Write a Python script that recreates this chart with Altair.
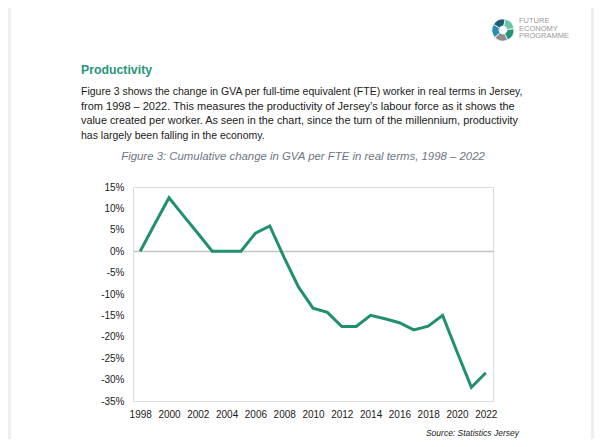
"""Jersey productivity page: cumulative change in GVA per FTE, 1998-2022."""

import pandas as pd
import altair as alt

# chart data
years = list(range(1998, 2023))
gva_change = [
    0.0, 6.3, 12.5, 8.3, 4.2, 0.0, 0.0, 0.0, 4.2, 5.9,
    -1.5, -8.4, -13.3, -14.3, -17.6, -17.6, -15.0, -15.8, -16.7, -18.4,
    -17.5, -15.0, -23.5, -31.8, -28.4,
]
year_ticks = list(range(1998, 2023, 2))
pct_ticks = list(range(-35, 20, 5))

# page text
heading = "Productivity"
paragraph = [
    "Figure 3 shows the change in GVA per full-time equivalent (FTE) worker in real terms in Jersey,",
    "from 1998 \u2013 2022. This measures the productivity of Jersey\u2019s labour force as it shows the",
    "value created per worker. As seen in the chart, since the turn of the millennium, productivity",
    "has largely been falling in the economy.",
]
caption = "Figure 3: Cumulative change in GVA per FTE in real terms, 1998 \u2013 2022"
source = "Source: Statistics Jersey"
logo_words = ["FUTURE", "ECONOMY", "PROGRAMME"]
logo_segments = ["a", "b", "c", "d", "e"]
logo_colors = ["#1c5d74", "#67c4a6", "#23957a", "#8d8d8d", "#2b8cb2"]

GREEN = "#21906f"
FONT = "Liberation Sans"
# rough justification: the text is left-aligned, so stretch the shorter lines a touch
PARA_SIZES = [10.5, 11.0, 10.85, 10.5]

df = pd.DataFrame({"year": years, "change": gva_change})


def text_layer(text, x, y, **style):
    """A single line of page text placed in pixels relative to the plot origin."""
    return (
        alt.Chart(pd.DataFrame({"t": [text]}))
        .mark_text(font=FONT, baseline="middle", **style)
        .encode(x=alt.value(x), y=alt.value(y), text="t:N")
    )


# the only gridline drawn is the one at 0%, which stands in for the zero line
line = (
    alt.Chart(df)
    .mark_line(color=GREEN, strokeWidth=3, strokeJoin="miter")
    .encode(
        x=alt.X(
            "year:Q",
            scale=alt.Scale(domain=[1997.5, 2022.5], nice=False, zero=False),
            axis=alt.Axis(
                values=year_ticks, format="d", title=None, grid=False, domain=False,
                ticks=False, labelPadding=8, labelFontSize=10, labelColor="#1a1a1a",
                labelFont=FONT, labelFlush=False, labelOverlap=False,
            ),
        ),
        y=alt.Y(
            "change:Q",
            scale=alt.Scale(domain=[-35, 15], nice=False),
            axis=alt.Axis(
                values=pct_ticks, labelExpr="datum.value + '%'", title=None,
                grid=True, gridWidth=1.5,
                gridColor=alt.condition("datum.value === 0", alt.value("#c4c4c4"), alt.value("transparent")),
                domain=False, ticks=False, labelPadding=9, labelFontSize=10,
                labelColor="#1a1a1a", labelFont=FONT, labelOverlap=False,
            ),
        ),
    )
)

logo = (
    alt.Chart(pd.DataFrame({"seg": logo_segments, "share": [1] * 5, "col": logo_colors}))
    .mark_arc(outerRadius=11, innerRadius=4, stroke="white", strokeWidth=0.8)
    .encode(
        theta=alt.Theta("share:Q", stack=True, scale=alt.Scale(range=[-1.05, 5.233])),
        color=alt.Color("col:N", scale=None),
        order=alt.Order("seg:N"),
        x=alt.value(370),
        y=alt.value(-157),
    )
)

page_edges = alt.Chart(pd.DataFrame({"e": ["left", "right"], "x0": [-125, 458], "x1": [-122, 461]}))
edges = page_edges.mark_rect(color="#eeedf3").encode(
    x=alt.X("x0:Q", scale=None), x2="x1:Q", y=alt.value(-179), y2=alt.value(252)
)

texts = [text_layer(heading, -52, -117, align="left", fontSize=12.3, fontWeight="bold", color="#27967a")]
for i, row in enumerate(paragraph):
    texts.append(text_layer(row, -52, -95 + i * 14.7, align="left", fontSize=PARA_SIZES[i], color="#1a1a1a"))
texts.append(text_layer(caption, 170, -30, align="center", fontSize=11.4, fontStyle="italic", color="#6d7585"))
texts.append(text_layer(source, 386, 245.5, align="right", fontSize=8.5, fontStyle="italic", color="#222222"))
for i, word in enumerate(logo_words):
    texts.append(text_layer(word, 386, -166 + i * 7.5, align="left", fontSize=7.5, color="#9a9a9a"))

chart = (
    alt.layer(edges, line, logo, *texts)
    .properties(
        width=360,
        height=214,
        padding={"left": 125, "top": 179, "right": 101, "bottom": 38},
        autosize=alt.AutoSizeParams(type="none"),
    )
    .configure_view(stroke=None)
    .configure_axis(labelOverlap=False)
    .configure(background="white")
)

chart.save("out.html", embed_options={"renderer": "svg", "actions": False})
